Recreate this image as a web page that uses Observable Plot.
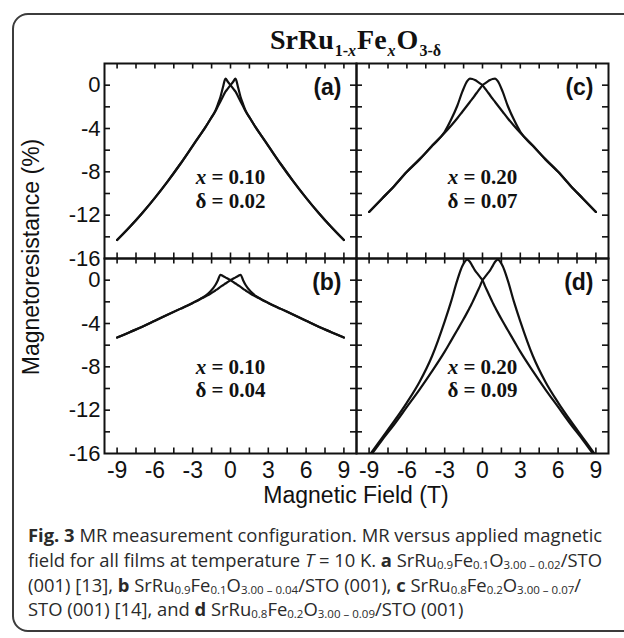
<!DOCTYPE html>
<html>
<head>
<meta charset="utf-8">
<script src="https://cdn.jsdelivr.net/npm/d3@7"></script>
<script src="https://cdn.jsdelivr.net/npm/@observablehq/plot@0.6"></script>
<style>
  html, body { margin: 0; padding: 0; background: #fff; }
  #wrap { position: relative; width: 624px; height: 638px; overflow: hidden; background: #fff; }
  #border { position: absolute; left: 12px; top: 13px; width: 720px; height: 619px; border: 2px solid #3c3c3c; border-radius: 16px; box-sizing: border-box; }
  #chart { position: absolute; left: 0; top: 0; }
  #title { position: absolute; left: 156px; width: 400px; top: 26px; text-align: center; font-family: "Liberation Serif", serif; font-weight: bold; font-size: 28px; color: #111; line-height: 1; white-space: nowrap; }
  #title sub { font-size: 16px; vertical-align: -7px; line-height: 0; margin: 0 1px; }
  #ylab { position: absolute; left: 31px; top: 257px; transform: translate(-50%, -50%) rotate(-90deg); font-family: "Liberation Sans", Arial, sans-serif; font-size: 23px; color: #111; white-space: nowrap; }
  #xlab { position: absolute; left: 156px; width: 400px; top: 484px; text-align: center; font-family: "Liberation Sans", Arial, sans-serif; font-size: 23px; color: #111; line-height: 1; white-space: nowrap; }
  #caption { position: absolute; left: 28px; top: 523px; width: 600px; font-family: "Open Sans", sans-serif; font-size: 18.4px; line-height: 24.8px; color: #2a2a2a; white-space: nowrap; }
  #caption sub { font-size: 11.5px; vertical-align: -2px; line-height: 1; }
</style>
</head>
<body>
<div id="wrap">
  <div id="border"></div>
  <div id="chart"></div>
  <div id="title">SrRu<sub>1-<i>x</i></sub>Fe<sub><i>x</i></sub>O<sub>3-δ</sub></div>
  <div id="ylab">Magnetoresistance (%)</div>
  <div id="xlab">Magnetic Field (T)</div>
  <div id="caption"><b>Fig. 3</b> MR measurement configuration. MR versus applied magnetic<br>field for all films at temperature <i>T</i> = 10 K. <b>a</b> SrRu<sub>0.9</sub>Fe<sub>0.1</sub>O<sub>3.00 – 0.02</sub>/STO<br>(001) [13], <b>b</b> SrRu<sub>0.9</sub>Fe<sub>0.1</sub>O<sub>3.00 – 0.04</sub>/STO (001), <b>c</b> SrRu<sub>0.8</sub>Fe<sub>0.2</sub>O<sub>3.00 – 0.07</sub>/<br>STO (001) [14], and <b>d</b> SrRu<sub>0.8</sub>Fe<sub>0.2</sub>O<sub>3.00 – 0.09</sub>/STO (001)</div>
</div>
<script>
// Magnetic field grid (T), shared by every branch
const field = [-9,-8,-7,-6,-5,-4,-3,-2.5,-2,-1.6,-1.2,-1,-0.8,-0.6,-0.4,-0.2,0,0.2,0.4,0.6,0.8,1,1.2,1.6,2,2.5,3,4,5,6,7,8,9];

// Panel (a): x = 0.10, delta = 0.02 — MR (%)
const mrA_down = [-14.3,-13.1,-11.8,-10.4,-8.9,-7.3,-5.6,-4.75,-3.9,-3.15,-2.35,-1.75,-1.1,-0.2,0.6,0.3,0,-0.3,-0.6,-1.05,-1.5,-1.95,-2.4,-3.15,-3.9,-4.75,-5.6,-7.3,-8.9,-10.4,-11.8,-13.1,-14.3];
const mrA_up   = [-14.3,-13.1,-11.8,-10.4,-8.9,-7.3,-5.6,-4.75,-3.9,-3.15,-2.4,-1.95,-1.5,-1.05,-0.6,-0.3,0,0.3,0.6,-0.2,-1.1,-1.75,-2.35,-3.15,-3.9,-4.75,-5.6,-7.3,-8.9,-10.4,-11.8,-13.1,-14.3];

// Panel (b): x = 0.10, delta = 0.04
const mrB_down = [-5.3,-4.8,-4.3,-3.75,-3.2,-2.65,-2.1,-1.8,-1.45,-1.05,-0.45,0.0,0.5,0.38,0.26,0.13,0,-0.16,-0.31,-0.47,-0.62,-0.8,-0.95,-1.25,-1.5,-1.8,-2.1,-2.65,-3.2,-3.75,-4.3,-4.8,-5.3];
const mrB_up   = [-5.3,-4.8,-4.3,-3.75,-3.2,-2.65,-2.1,-1.8,-1.5,-1.25,-0.95,-0.8,-0.62,-0.47,-0.31,-0.16,0,0.13,0.26,0.38,0.5,0.0,-0.45,-1.05,-1.45,-1.8,-2.1,-2.65,-3.2,-3.75,-4.3,-4.8,-5.3];

// Panel (c): x = 0.20, delta = 0.07
const mrC_down = [-11.7,-10.5,-9.3,-8.0,-6.85,-5.6,-4.3,-3.2,-1.9,-0.6,0.4,0.6,0.57,0.47,0.33,0.17,0,-0.31,-0.62,-0.93,-1.25,-1.55,-1.85,-2.45,-3.05,-3.75,-4.4,-5.6,-6.85,-8.0,-9.3,-10.5,-11.7];
const mrC_up   = [-11.7,-10.5,-9.3,-8.0,-6.85,-5.6,-4.4,-3.75,-3.05,-2.45,-1.85,-1.55,-1.25,-0.93,-0.62,-0.31,0,0.17,0.33,0.47,0.57,0.6,0.4,-0.6,-1.9,-3.2,-4.3,-5.6,-6.85,-8.0,-9.3,-10.5,-11.7];

// Panel (d): x = 0.20, delta = 0.09
const mrD_down = [-16.2,-14.6,-13.0,-11.3,-9.4,-7.0,-3.8,-2.0,0.0,1.3,1.9,1.7,1.3,0.9,0.6,0.3,0,-0.55,-1.05,-1.55,-2.05,-2.5,-2.95,-3.8,-4.6,-5.6,-6.6,-8.4,-10.1,-11.7,-13.3,-14.8,-16.4];
const mrD_up   = [-16.4,-14.8,-13.3,-11.7,-10.1,-8.4,-6.6,-5.6,-4.6,-3.8,-2.95,-2.5,-2.05,-1.55,-1.05,-0.55,0,0.3,0.6,0.9,1.3,1.7,1.9,1.3,0.0,-2.0,-3.8,-7.0,-9.4,-11.3,-13.0,-14.6,-16.2];

// Panel descriptors
const panelIds    = ["a", "b", "c", "d"];
const panelCols   = ["L", "L", "R", "R"];
const panelRows   = ["T", "B", "T", "B"];
const xValues     = ["0.10", "0.10", "0.20", "0.20"];
const deltaValues = ["0.02", "0.04", "0.07", "0.09"];

// Axis tick values
const xTickLabels = [-9, -6, -3, 0, 3, 6, 9];
const xTicks = [-9,-7.5,-6,-4.5,-3,-1.5,0,1.5,3,4.5,6,7.5,9];
const yTickLabels = [0, -4, -8, -12, -16];
const yTicks = [0,-2,-4,-6,-8,-10,-12,-14];

const branches = [
  [mrA_down, mrA_up], [mrB_down, mrB_up], [mrC_down, mrC_up], [mrD_down, mrD_up]
];

const curves = [];
panelIds.forEach((id, p) => {
  ["down", "up"].forEach((dir, b) => {
    const vals = branches[p][b];
    field.forEach((h, i) => {
      curves.push({panel: id, fx: panelCols[p], fy: panelRows[p], series: id + dir, H: h, MR: vals[i]});
    });
  });
});
const panels = panelIds.map((id, p) => ({id, fx: panelCols[p], fy: panelRows[p], xv: xValues[p], dv: deltaValues[p]}));

const W = 624, H = 510, mL = 104, mR = 16, mT = 62, mB = 57;
const panelW = (W - mL - mR) / 2, panelH = (H - mT - mB) / 2;
const ink = "#111";
const serif = "'Liberation Serif', serif";

const chart = Plot.plot({
  width: W, height: H,
  marginLeft: mL, marginRight: mR, marginTop: mT, marginBottom: mB,
  x: {domain: [-10, 10]},
  y: {domain: [-16, 2]},
  fx: {domain: ["L", "R"], padding: 0, axis: null},
  fy: {domain: ["T", "B"], padding: 0, axis: null},
  style: {fontFamily: "'Liberation Sans', Arial, sans-serif", fontSize: "23px", color: ink, background: "transparent", overflow: "visible"},
  marks: [
    Plot.tickX(xTicks, {x: d => d, insetTop: panelH - 6, stroke: ink, strokeWidth: 1.6}),
    Plot.tickX(xTicks, {x: d => d, insetBottom: panelH - 6, stroke: ink, strokeWidth: 1.6}),
    Plot.tickY(yTicks, {y: d => d, insetRight: panelW - 6, stroke: ink, strokeWidth: 1.6}),
    Plot.tickY(yTicks, {y: d => d, insetLeft: panelW - 6, stroke: ink, strokeWidth: 1.6}),
    Plot.axisX({ticks: xTickLabels, tickSize: 0, tickPadding: 8, tickFormat: d => String(d), label: null, fontSize: 23}),
    Plot.axisY({ticks: yTickLabels, tickSize: 0, tickPadding: 4, tickFormat: d => String(d), label: null, fontSize: 22}),
    Plot.line(curves, {x: "H", y: "MR", z: "series", fx: "fx", fy: "fy", stroke: ink, strokeWidth: 2.2, curve: "monotone-x", clip: true}),
    Plot.text(panels, {fx: "fx", fy: "fy", text: d => `(${d.id})`, frameAnchor: "top-right", lineAnchor: "middle", dx: -15, dy: 24, fontSize: 23, fontWeight: "bold", fill: ink}),
    Plot.text(panels.filter(d => d.fy === "T"), {fx: "fx", fy: "fy", text: d => `x = ${d.xv}`, frameAnchor: "middle", dy: 16, fontFamily: serif, fontWeight: "bold", fontSize: 21, fill: ink}),
    Plot.text(panels.filter(d => d.fy === "T"), {fx: "fx", fy: "fy", text: d => `δ = ${d.dv}`, frameAnchor: "middle", dy: 40, fontFamily: serif, fontWeight: "bold", fontSize: 21, fill: ink}),
    Plot.text(panels.filter(d => d.fy === "B"), {fx: "fx", fy: "fy", text: d => `x = ${d.xv}`, frameAnchor: "middle", dy: 11, fontFamily: serif, fontWeight: "bold", fontSize: 21, fill: ink}),
    Plot.text(panels.filter(d => d.fy === "B"), {fx: "fx", fy: "fy", text: d => `δ = ${d.dv}`, frameAnchor: "middle", dy: 34, fontFamily: serif, fontWeight: "bold", fontSize: 21, fill: ink}),
    Plot.frame({stroke: ink, strokeWidth: 2})
  ]
});

// italicise the leading "x" of the composition labels
chart.querySelectorAll("text").forEach(t => {
  const s = t.textContent;
  if (/^x = /.test(s)) {
    t.textContent = "";
    const it = document.createElementNS("http://www.w3.org/2000/svg", "tspan");
    it.setAttribute("font-style", "italic");
    it.textContent = "x";
    t.appendChild(it);
    t.appendChild(document.createTextNode(s.slice(1)));
  }
});

document.getElementById("chart").appendChild(chart);
</script>
</body>
</html>
